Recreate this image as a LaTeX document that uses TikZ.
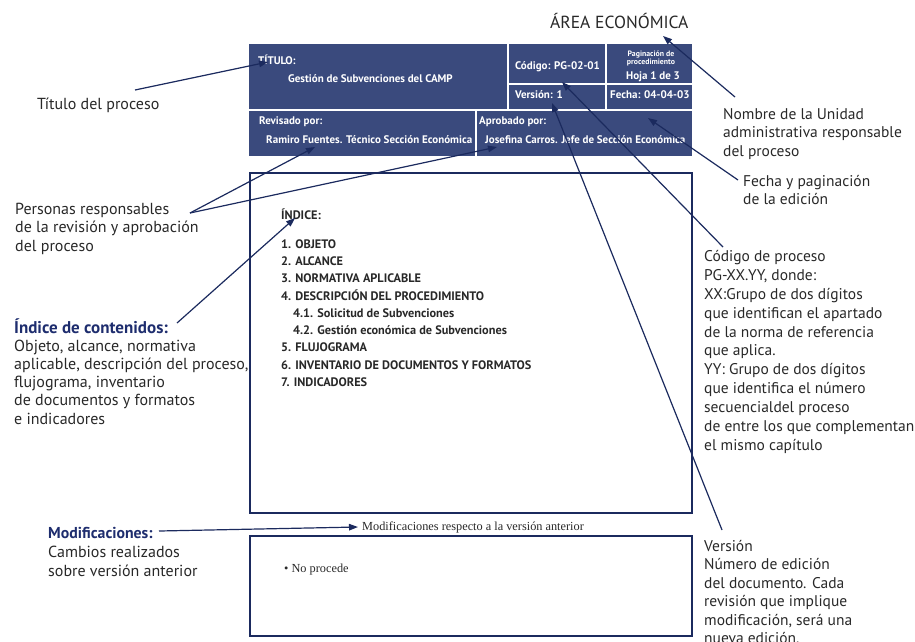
\documentclass[tikz,border=0pt]{standalone}
\usepackage{fontspec}
\setmainfont{PT Sans}
\newfontfamily\serifsmall{Liberation Serif}
\usetikzlibrary{arrows.meta}
\definecolor{cellblue}{RGB}{58,74,125}
\definecolor{navy}{RGB}{27,42,94}
\definecolor{txt}{RGB}{40,40,40}
\definecolor{headblue}{RGB}{30,45,110}
\tikzset{
  cell/.style={fill=cellblue,draw=none},
  frame/.style={draw=navy,line width=2pt},
  wt/.style={text=white,font=\bfseries\fontsize{11}{12}\selectfont,inner sep=0,anchor=base west},
  idx/.style={text=txt,font=\bfseries\fontsize{12.3}{13}\selectfont,inner sep=0,anchor=base west},
  lbl/.style={text=txt,font=\fontsize{15.5}{18.5}\selectfont,inner sep=0,anchor=north west,align=left},
  llbl/.style={text=txt,font=\fontsize{16}{18.5}\selectfont,inner sep=0,anchor=north west,align=left},
  sm/.style={text=txt,font=\serifsmall\fontsize{12.3}{13}\selectfont,inner sep=0,anchor=base west},
  ptr/.style={draw=navy,line width=1.2pt,-{Triangle[length=9pt,width=6.5pt]}},
}
\begin{document}
\begin{tikzpicture}[x=1pt,y=-1pt]
\useasboundingbox (0,0) rectangle (915,641);
% header cells
\fill[cell] (249,44) rectangle (507,109);
\fill[cell] (509,44) rectangle (605,83);
\fill[cell] (607,44) rectangle (692,83);
\fill[cell] (509,85) rectangle (605,109);
\fill[cell] (607,85) rectangle (692,109);
\fill[cell] (249,111) rectangle (475,156);
\fill[cell] (477,111) rectangle (692,156);
% frames
\draw[frame] (250,173) rectangle (692,513);
\draw[frame] (250,536) rectangle (692,636);
% header texts
\node[text=txt,font=\fontsize{17.5}{20}\selectfont,inner sep=0,anchor=base west] (area) at (550,28) {ÁREA ECONÓMICA};
\node[wt] (titulo) at (258,64) {TÍTULO:};
\node[wt] (gestion) at (288,82) {Gestión de Subvenciones del CAMP};
\node[wt] (codigo) at (515,69) {Código: PG-02-01};
\node[wt,anchor=base,font=\bfseries\fontsize{7.8}{8}\selectfont] (pag1) at (651,56) {Paginación de};
\node[wt,anchor=base,font=\bfseries\fontsize{7.8}{8}\selectfont] (pag2) at (651,64.5) {procedimiento};
\node[wt,anchor=base] (hoja) at (653,79.5) {Hoja 1 de 3};
\node[wt] (version) at (515,98) {Versión: 1};
\node[wt] (fecha) at (610,98) {Fecha: 04-04-03};
\node[wt] (revisado) at (259,124) {Revisado por:};
\node[wt] (ramiro) at (266,143) {Ramiro Fuentes. Técnico Sección Económica};
\node[wt] (aprobado) at (479,124) {Aprobado por:};
\node[wt] (josefina) at (485,143) {Josefina Carros. Jefe de Sección Económica};
% index
\node[idx] (indice) at (281,219.5) {ÍNDICE:};
\node[idx] (i1) at (281,248.5) {1. OBJETO};
\node[idx] (i2) at (281,265.5) {2. ALCANCE};
\node[idx] (i3) at (281,282.5) {3. NORMATIVA APLICABLE};
\node[idx] (i4) at (281,300.5) {4. DESCRIPCIÓN DEL PROCEDIMIENTO};
\node[idx] (i41) at (293,317.5) {4.1. Solicitud de Subvenciones};
\node[idx] (i42) at (293,334.5) {4.2. Gestión económica de Subvenciones};
\node[idx] (i5) at (281,351.5) {5. FLUJOGRAMA};
\node[idx] (i6) at (281,369.5) {6. INVENTARIO DE DOCUMENTOS Y FORMATOS};
\node[idx] (i7) at (281,386.5) {7. INDICADORES};
% modifications
\node[sm] (modcap) at (362,530) {Modificaciones respecto a la versión anterior};
\node[sm] (noproc) at (284,572.5) {\textbullet\ No procede};
% left labels
\node[text=txt,font=\fontsize{16}{18.5}\selectfont,inner sep=0,anchor=base west] (ltitulo) at (37,109.5) {Título del proceso};
\node[llbl] (lpersonas) at (15,201) {\strut Personas responsables\\de la revisión y aprobación\\del proceso};
\node[llbl,font=\fontsize{16}{18.2}\selectfont] (lindice) at (14,318) {\strut{\bfseries\fontsize{17}{18.2}\selectfont\color{headblue}Índice de contenidos:}\\Objeto, alcance, normativa\\aplicable, descripción del proceso,\\flujograma, inventario\\de documentos y formatos\\e indicadores};
\node[llbl,font=\fontsize{16}{19}\selectfont] (lmod) at (48,525) {\strut{\bfseries\fontsize{15.8}{19}\selectfont\color{headblue}Modificaciones:}\\Cambios realizados\\sobre versión anterior};
% right labels
\node[lbl] (lnombre) at (723,106) {\strut Nombre de la Unidad\\administrativa responsable\\del proceso};
\node[lbl] (lfecha) at (743,173) {\strut Fecha y paginación\\de la edición};
\node[lbl,font=\fontsize{15.5}{18.9}\selectfont] (lcodigo) at (704,248) {\strut Código de proceso\\PG-XX.YY, donde:\\XX:Grupo de dos dígitos\\que identifican el apartado\\de la norma de referencia\\que aplica.\\YY: Grupo de dos dígitos\\que identifica el número\\secuencialdel proceso\\de entre los que complementan\\el mismo capítulo};
\node[lbl] (lversion) at (704,538) {\strut Versión\\Número de edición\\del documento. Cada\\revisión que implique\\modificación, será una\\nueva edición.};
% connector ends
\coordinate (s1) at (135,90);   \coordinate (t1) at (268,62);
\coordinate (s2) at (190,213);  \coordinate (t2a) at (315,147); \coordinate (t2b) at (497,147);
\coordinate (s3) at (177,323);  \coordinate (t3) at (295,218);
\coordinate (s4) at (159,531);  \coordinate (t4) at (358,527);
\coordinate (s5) at (735,97);   \coordinate (t5) at (663,36);
\coordinate (s6) at (738,180);  \coordinate (t6) at (648,118);
\coordinate (s7) at (723,247);  \coordinate (t7) at (562,82);
\coordinate (s8) at (722,530);  \coordinate (t8) at (552,103);
\draw[ptr] (s1) -- (t1);
\draw[ptr] (s2) -- (t2a);
\draw[ptr] (s2) -- (t2b);
\draw[ptr] (s3) -- (t3);
\draw[ptr] (s4) -- (t4);
\draw[ptr] (s5) -- (t5);
\draw[ptr] (s6) -- (t6);
\draw[ptr] (s7) -- (t7);
\draw[ptr] (s8) -- (t8);
\end{tikzpicture}
\end{document}
